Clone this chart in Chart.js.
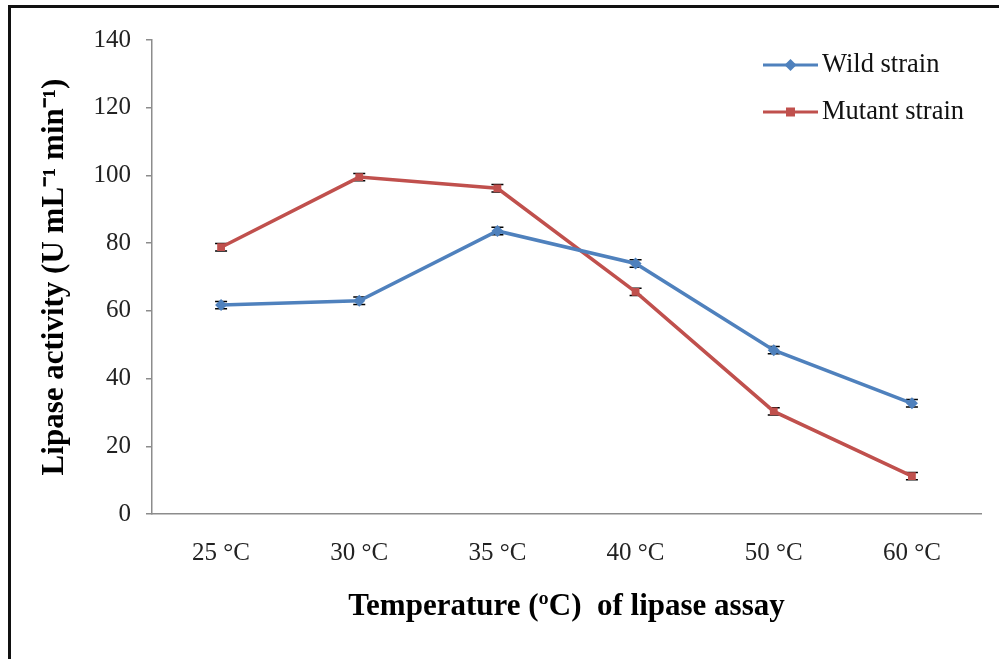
<!DOCTYPE html>
<html>
<head>
<meta charset="utf-8">
<script src="https://cdn.jsdelivr.net/npm/chart.js@4.4.1/dist/chart.umd.min.js"></script>
<style>
  html, body { margin: 0; padding: 0; background: #fff; }
  #wrap { position: relative; width: 999px; height: 659px; overflow: hidden; }
  #frame { position: absolute; left: 8px; top: 5px; width: 1200px; height: 900px;
           border-left: 3px solid #111; border-top: 3px solid #111; pointer-events: none; }
</style>
</head>
<body>
<div id="wrap">
  <canvas id="chart" width="999" height="659"></canvas>
  <div id="frame"></div>
</div>
<script>
// Data
const temperatures = ['25 °C', '30 °C', '35 °C', '40 °C', '50 °C', '60 °C'];
const wildStrain = [61.7, 63.0, 83.6, 74.0, 48.4, 32.7];
const mutantStrain = [78.8, 99.5, 96.2, 65.6, 30.3, 11.2];
const wildError = [0.5, 0.5, 0.5, 0.5, 0.5, 0.5];
const mutantError = [0.5, 0.5, 0.5, 0.5, 0.5, 0.5];
const yTicks = [0, 20, 40, 60, 80, 100, 120, 140];

const serif = "'Liberation Serif', 'Times New Roman', serif";

// Small black error bar caps, drawn from the error arrays
const errorBars = {
  id: 'errorBars',
  beforeDatasetsDraw(chart) {
    const ctx = chart.ctx;
    const y = chart.scales.y;
    const errs = [wildError, mutantError];
    ctx.save();
    ctx.strokeStyle = '#000';
    ctx.lineWidth = 1.5;
    chart.data.datasets.forEach((ds, i) => {
      const meta = chart.getDatasetMeta(i);
      meta.data.forEach((pt, j) => {
        const v = ds.data[j];
        const top = y.getPixelForValue(v + errs[i][j]) - 2;
        const bot = y.getPixelForValue(v - errs[i][j]) + 2;
        ctx.beginPath();
        ctx.moveTo(pt.x - 6, top); ctx.lineTo(pt.x + 6, top);
        ctx.moveTo(pt.x - 6, bot); ctx.lineTo(pt.x + 6, bot);
        ctx.stroke();
      });
    });
    ctx.restore();
  }
};

// Legend drawn inside the plot at top right
const insideLegend = {
  id: 'insideLegend',
  afterDraw(chart) {
    const ctx = chart.ctx;
    const x0 = 763, rows = [65, 112];
    ctx.save();
    chart.data.datasets.forEach((ds, i) => {
      const yy = rows[i];
      ctx.strokeStyle = ds.borderColor;
      ctx.lineWidth = 3;
      ctx.beginPath();
      ctx.moveTo(x0, yy); ctx.lineTo(x0 + 55, yy);
      ctx.stroke();
      ctx.fillStyle = ds.backgroundColor;
      ctx.beginPath();
      if (ds.pointStyle === 'rectRot') {
        ctx.moveTo(x0 + 27.5, yy - 6); ctx.lineTo(x0 + 33.5, yy);
        ctx.lineTo(x0 + 27.5, yy + 6); ctx.lineTo(x0 + 21.5, yy);
      } else {
        ctx.rect(x0 + 23, yy - 4.5, 9, 9);
      }
      ctx.fill();
      ctx.fillStyle = '#111';
      ctx.font = '26.5px ' + serif;
      ctx.textBaseline = 'middle';
      ctx.fillText(ds.label, x0 + 59, yy);
    });
    ctx.restore();
  }
};

new Chart(document.getElementById('chart'), {
  type: 'line',
  data: {
    labels: temperatures,
    datasets: [
      {
        label: 'Wild strain',
        data: wildStrain,
        borderColor: '#4F81BD',
        backgroundColor: '#4F81BD',
        borderWidth: 3.5,
        pointStyle: 'rectRot',
        pointRadius: 6,
        pointBorderWidth: 0,
        tension: 0
      },
      {
        label: 'Mutant strain',
        data: mutantStrain,
        borderColor: '#C0504D',
        backgroundColor: '#C0504D',
        borderWidth: 3.5,
        pointStyle: 'rect',
        pointRadius: 5.5,
        pointBorderWidth: 0,
        tension: 0
      }
    ]
  },
  options: {
    responsive: false,
    animation: false,
    layout: { padding: { top: 40, right: 18, left: 0, bottom: 0 } },
    plugins: {
      legend: { display: false },
      tooltip: { enabled: false }
    },
    scales: {
      x: {
        offset: true,
        grid: { display: true, drawOnChartArea: false, drawTicks: false, offset: true },
        border: { color: '#8c8c8c', width: 1.5 },
        ticks: { color: '#222', font: { family: serif, size: 25 }, padding: 24, maxRotation: 0 },
        title: {
          display: true,
          text: 'Temperature (ºC)  of lipase assay',
          color: '#000',
          font: { family: serif, size: 31, weight: 'bold' },
          padding: { top: 0, bottom: 33 }
        },
        afterFit(scale) { scale.height = 145; }
      },
      y: {
        min: 0,
        max: 140,
        afterBuildTicks(scale) { scale.ticks = yTicks.map(v => ({ value: v })); },
        grid: { drawOnChartArea: false, drawTicks: true, tickLength: 6, color: '#8c8c8c', lineWidth: 1.5 },
        border: { color: '#8c8c8c', width: 1.5 },
        ticks: { color: '#222', font: { family: serif, size: 25 }, padding: 15 },
        title: {
          display: true,
          text: 'Lipase activity (U mL⁻¹ min⁻¹)',
          color: '#000',
          font: { family: serif, size: 31, weight: 'bold' },
          padding: { top: 36, bottom: 0 }
        },
        afterFit(scale) { scale.width = 152; }
      }
    }
  },
  plugins: [errorBars, insideLegend]
});
</script>
</body>
</html>
